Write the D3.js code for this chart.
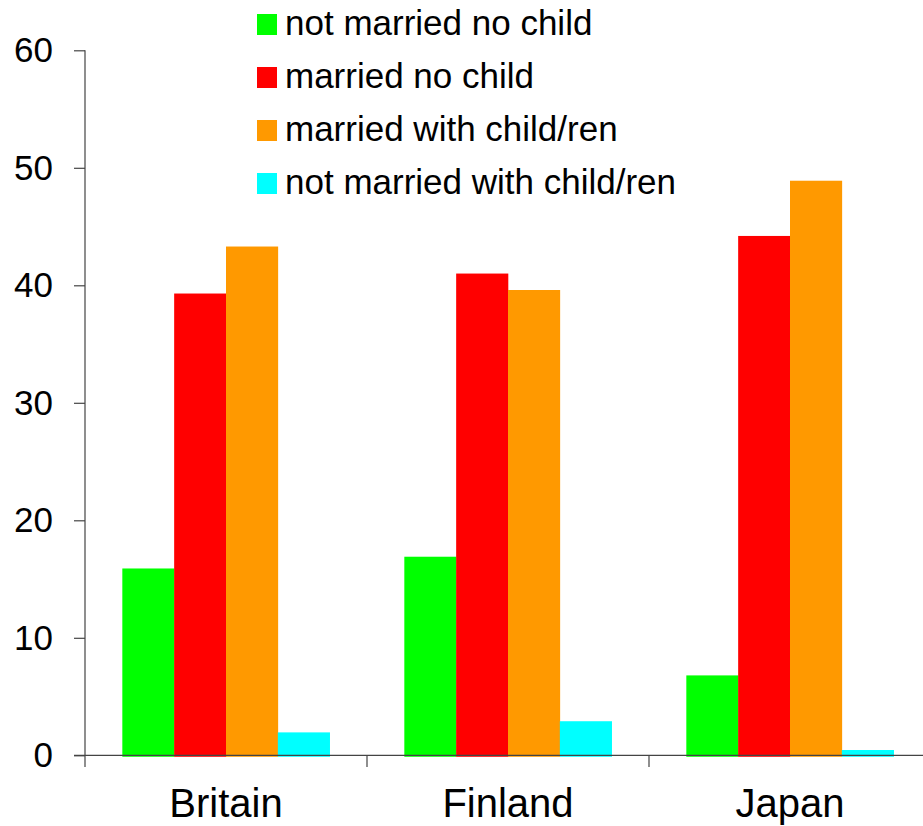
<!DOCTYPE html>
<html>
<head>
<meta charset="utf-8">
<script src="https://cdn.jsdelivr.net/npm/d3@7"></script>
<style>
  html, body { margin: 0; padding: 0; background: #fff; overflow: hidden; }
  svg { display: block; font-family: "Liberation Sans", Arial, sans-serif; }
</style>
</head>
<body>
<svg id="chart" width="923" height="826"></svg>
<script>
const categories = ["Britain", "Finland", "Japan"];
const seriesNames = ["not married no child", "married no child", "married with child/ren", "not married with child/ren"];
const seriesColors = ["#00ff00", "#ff0000", "#ff9900", "#00ffff"];
const notMarriedNoChild = [15.9, 16.9, 6.8];
const marriedNoChild = [39.3, 41.0, 44.2];
const marriedWithChild = [43.3, 39.6, 48.9];
const notMarriedWithChild = [1.95, 2.9, 0.45];
const yTicks = [0, 10, 20, 30, 40, 50, 60];

const seriesValues = [notMarriedNoChild, marriedNoChild, marriedWithChild, notMarriedWithChild];

const svg = d3.select("#chart");
const axisColor = "#444";

const y = d3.scaleLinear().domain([0, 60]).range([755.3, 50.3]);
const x0 = d3.scaleBand().domain(categories).range([85, 931]).padding(0);
const x1 = d3.scaleBand().domain(seriesNames).range([0, x0.bandwidth()]).paddingInner(0).paddingOuter(0.72);

// bars
const groups = svg.append("g").selectAll("g")
  .data(categories)
  .join("g")
  .attr("transform", d => `translate(${x0(d)},0)`);

groups.selectAll("rect")
  .data((c, ci) => seriesNames.map((s, si) => ({ s, si, v: seriesValues[si][ci] })))
  .join("rect")
  .attr("x", d => x1(d.s))
  .attr("width", x1.bandwidth() + 0.3)
  .attr("y", d => y(d.v))
  .attr("height", d => y(0) - y(d.v) + 1.5)
  .attr("fill", d => seriesColors[d.si]);

// y axis
const yAxis = svg.append("g")
  .attr("transform", "translate(85,0)")
  .call(d3.axisLeft(y).tickValues(yTicks).tickSize(11).tickPadding(21).tickFormat(d3.format("d")));
yAxis.select(".domain").remove();
yAxis.selectAll(".tick line").attr("stroke", axisColor).attr("stroke-width", 1.2);
yAxis.selectAll(".tick text").attr("font-size", 35).attr("fill", "#000")
  .attr("font-family", "Liberation Sans, Arial, sans-serif");
svg.append("line").attr("x1", 85).attr("x2", 85).attr("y1", y(60)).attr("y2", 767)
  .attr("stroke", axisColor).attr("stroke-width", 1.2);

// x axis line
svg.append("line").attr("x1", 74).attr("x2", 923).attr("y1", y(0)).attr("y2", y(0))
  .attr("stroke", axisColor).attr("stroke-width", 1.2);

// category separators
svg.append("g").selectAll("line")
  .data(categories.slice(1))
  .join("line")
  .attr("x1", d => x0(d)).attr("x2", d => x0(d))
  .attr("y1", y(0)).attr("y2", 767)
  .attr("stroke", axisColor).attr("stroke-width", 1.2);

// category labels
svg.append("g").selectAll("text")
  .data(categories)
  .join("text")
  .attr("x", d => x0(d) + x1(seriesNames[0]) + x1.step() * 2)
  .attr("y", 817)
  .attr("text-anchor", "middle")
  .attr("font-size", 40)
  .attr("fill", "#000")
  .text(d => d);

// legend
const legend = svg.append("g").selectAll("g")
  .data(seriesNames)
  .join("g")
  .attr("transform", (d, i) => `translate(257,${14 + i * 53})`);
legend.append("rect")
  .attr("width", 20).attr("height", 21)
  .attr("fill", (d, i) => seriesColors[i]);
legend.append("text")
  .attr("x", 28).attr("y", 21)
  .attr("font-size", 35)
  .attr("fill", "#000")
  .text(d => d);
</script>
</body>
</html>
